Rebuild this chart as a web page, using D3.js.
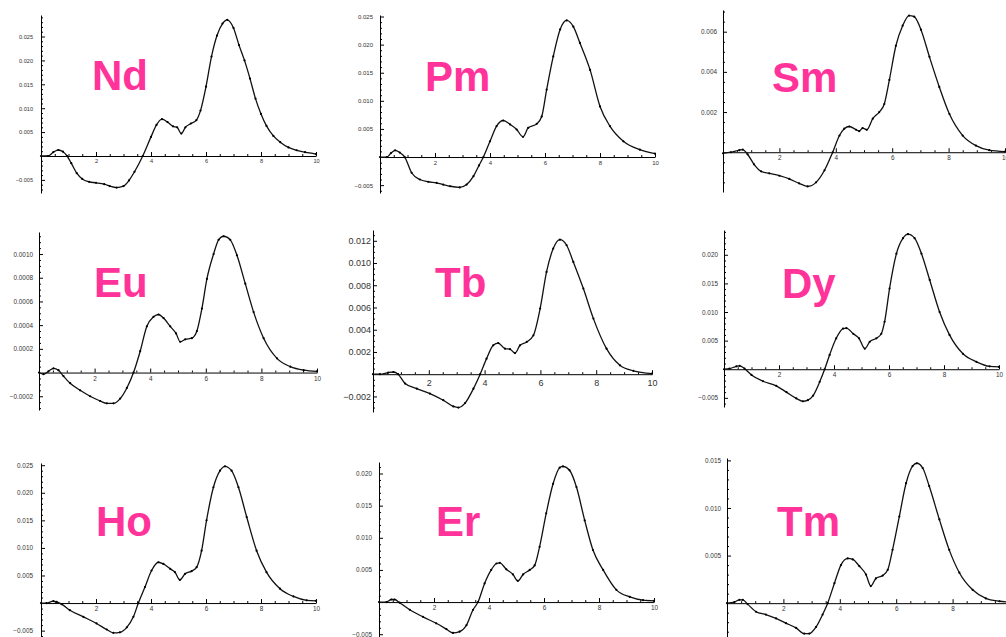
<!DOCTYPE html>
<html>
<head>
<meta charset="utf-8">
<script src="https://cdn.jsdelivr.net/npm/d3@7"></script>
<style>
  html, body { margin: 0; padding: 0; background: #fff; }
  svg { display: block; }
</style>
</head>
<body>
<svg id="chart" width="1006" height="637"></svg>
<script>
// Element names, one small panel each (3 x 3 grid, row by row)
const elements = ["Nd", "Pm", "Sm", "Eu", "Tb", "Dy", "Ho", "Er", "Tm"];

// Sampled curves: [energy, value]
const ndPoints = [[0,0],[0.25,0],[0.45,0.0008],[0.63,0.00126],[0.8,0.0009],[0.95,0],[1.1,-0.0015],[1.3,-0.0036],[1.5,-0.0048],[1.75,-0.0054],[2.0,-0.0056],[2.3,-0.0059],[2.5,-0.0063],[2.75,-0.0066],[3.0,-0.0063],[3.2,-0.0051],[3.4,-0.0033],[3.7,0],[4.0,0.0040],[4.2,0.0065],[4.4,0.0077],[4.6,0.0071],[4.8,0.0062],[4.95,0.0060],[5.1,0.0047],[5.25,0.0060],[5.45,0.0068],[5.65,0.0075],[5.8,0.0095],[6.0,0.0145],[6.2,0.0208],[6.4,0.0252],[6.6,0.0277],[6.77,0.0285],[7.0,0.0268],[7.2,0.0232],[7.4,0.0200],[7.6,0.0162],[7.8,0.0120],[8.0,0.0088],[8.2,0.0063],[8.45,0.0042],[8.7,0.0029],[9.0,0.0018],[9.3,0.0012],[9.6,0.0008],[10,0.0004]];
const pmPoints = [[0,0],[0.25,0],[0.4,0.0007],[0.55,0.0012],[0.72,0.0008],[0.9,0],[1.15,-0.0028],[1.45,-0.0040],[1.75,-0.0044],[2.06,-0.0046],[2.3,-0.0049],[2.55,-0.0052],[2.9,-0.0054],[3.15,-0.0049],[3.4,-0.0034],[3.6,-0.0015],[3.76,0],[4.0,0.0028],[4.24,0.0055],[4.48,0.0065],[4.73,0.0058],[4.97,0.0049],[5.2,0.0036],[5.39,0.0052],[5.7,0.0059],[5.88,0.0072],[6.06,0.0120],[6.3,0.0179],[6.55,0.0227],[6.79,0.0243],[7.03,0.0232],[7.27,0.0203],[7.64,0.0155],[8.0,0.0090],[8.36,0.0055],[8.85,0.0028],[9.45,0.0013],[10,0.0006]];
const smPoints = [[0,-0.00005],[0.28,0],[0.58,0.0001],[0.7,0.00013],[0.87,-0.0001],[1.1,-0.0006],[1.35,-0.00095],[1.64,-0.00105],[2.0,-0.00117],[2.35,-0.00133],[2.7,-0.00155],[3.0,-0.0017],[3.3,-0.0015],[3.6,-0.0009],[3.89,0],[4.13,0.00083],[4.3,0.00117],[4.48,0.00128],[4.72,0.00112],[4.83,0.00105],[4.95,0.0012],[5.1,0.00112],[5.31,0.00167],[5.54,0.002],[5.72,0.0024],[5.9,0.0036],[6.13,0.0053],[6.37,0.0063],[6.6,0.0068],[6.78,0.00675],[7.02,0.0061],[7.32,0.00475],[7.67,0.00325],[8.03,0.0019],[8.5,0.00083],[8.97,0.00033],[9.44,0.0001],[10,0.00003]];
const euPoints = [[0,0],[0.16,-0.000014],[0.34,0.00001],[0.52,0.000036],[0.7,0.00002],[0.88,-0.00003],[1.12,-0.00009],[1.48,-0.00015],[1.84,-0.0002],[2.2,-0.00024],[2.44,-0.00026],[2.68,-0.00026],[2.92,-0.00022],[3.16,-0.00013],[3.4,0],[3.64,0.00018],[3.88,0.00039],[4.12,0.00047],[4.3,0.00049],[4.48,0.00046],[4.72,0.00039],[4.93,0.00033],[5.08,0.00026],[5.26,0.00028],[5.5,0.00029],[5.68,0.00035],[5.86,0.00054],[6.04,0.00079],[6.28,0.001],[6.46,0.00112],[6.64,0.00115],[6.88,0.00112],[7.12,0.00099],[7.42,0.00075],[7.72,0.00051],[8.08,0.00029],[8.56,0.00012],[9.04,0.00005],[9.52,0.00002],[10,0.00001]];
const tbPoints = [[0,0],[0.25,0],[0.55,0.00015],[0.73,0.0002],[0.9,0],[1.15,-0.00084],[1.57,-0.0013],[2.04,-0.00174],[2.52,-0.00234],[2.88,-0.0029],[3.06,-0.003],[3.3,-0.0026],[3.6,-0.0013],[3.84,0],[4.07,0.0014],[4.31,0.0026],[4.49,0.0028],[4.73,0.0023],[4.91,0.00225],[5.09,0.0019],[5.27,0.0026],[5.51,0.0029],[5.75,0.0035],[5.99,0.0059],[6.22,0.0092],[6.46,0.0113],[6.7,0.0121],[6.94,0.0116],[7.18,0.0101],[7.54,0.0077],[7.9,0.005],[8.37,0.0023],[8.85,0.0008],[9.33,0.0003],[10,0.00006]];
const dyPoints = [[0,0],[0.2,0.0001],[0.45,0.0005],[0.57,0.0006],[0.75,0.0001],[1.0,-0.001],[1.42,-0.0021],[1.9,-0.0029],[2.27,-0.004],[2.63,-0.0051],[2.87,-0.0056],[3.05,-0.0054],[3.24,-0.0046],[3.48,-0.0022],[3.66,0],[3.84,0.0025],[4.08,0.0054],[4.33,0.0071],[4.45,0.0072],[4.7,0.0062],[4.91,0.0054],[5.12,0.0036],[5.3,0.0048],[5.54,0.0054],[5.72,0.0062],[5.84,0.0083],[6.02,0.0141],[6.27,0.0202],[6.51,0.0229],[6.69,0.0236],[6.93,0.0229],[7.18,0.0202],[7.48,0.0156],[7.84,0.01],[8.2,0.006],[8.69,0.0027],[9.18,0.0013],[9.66,0.0005],[10,0.0004]];
const hoPoints = [[0,0],[0.2,0],[0.45,0.00036],[0.57,0.0002],[0.75,-0.0002],[1.05,-0.0013],[1.54,-0.0025],[2.02,-0.0037],[2.39,-0.0048],[2.63,-0.0054],[2.87,-0.0053],[3.12,-0.0044],[3.36,-0.0025],[3.54,0],[3.78,0.0029],[4.02,0.0059],[4.27,0.0074],[4.45,0.0071],[4.7,0.0062],[4.87,0.0056],[5.05,0.0042],[5.24,0.0053],[5.48,0.0058],[5.66,0.0065],[5.84,0.0095],[6.02,0.015],[6.27,0.021],[6.51,0.024],[6.69,0.0248],[6.93,0.024],[7.18,0.021],[7.48,0.0156],[7.84,0.0095],[8.2,0.0056],[8.69,0.0026],[9.18,0.0012],[9.66,0.0005],[10,0.0004]];
const erPoints = [[0,0],[0.27,0],[0.45,0.0004],[0.57,0.0004],[0.75,-0.0001],[1.12,-0.0012],[1.6,-0.0023],[2.08,-0.0033],[2.45,-0.0042],[2.69,-0.0048],[2.93,-0.0046],[3.18,-0.0036],[3.42,-0.0012],[3.6,0],[3.84,0.0029],[4.08,0.005],[4.27,0.006],[4.39,0.0061],[4.63,0.0051],[4.87,0.0043],[5.05,0.0033],[5.24,0.0043],[5.48,0.005],[5.66,0.0057],[5.84,0.0086],[6.08,0.0138],[6.33,0.0184],[6.57,0.0209],[6.69,0.0211],[6.93,0.0205],[7.18,0.0179],[7.48,0.0127],[7.78,0.0081],[8.15,0.005],[8.63,0.0019],[9.12,0.0008],[9.6,0.0003],[10,0.0002]];
const tmPoints = [[0,0],[0.26,0.0001],[0.44,0.00035],[0.56,0.00035],[0.73,-0.0001],[1.03,-0.0009],[1.38,-0.0012],[1.74,-0.0016],[2.09,-0.0021],[2.45,-0.0026],[2.74,-0.0032],[2.92,-0.0032],[3.16,-0.0025],[3.39,-0.0012],[3.57,0],[3.81,0.0021],[4.04,0.004],[4.28,0.0047],[4.46,0.0046],[4.69,0.0039],[4.93,0.003],[5.1,0.0018],[5.28,0.0026],[5.52,0.0029],[5.7,0.0035],[5.87,0.0056],[6.11,0.0091],[6.35,0.0126],[6.58,0.0144],[6.73,0.0147],[6.94,0.0142],[7.17,0.0123],[7.53,0.0088],[7.88,0.0056],[8.24,0.0032],[8.71,0.0014],[9.18,0.0005],[9.66,0.0002],[10,0.0001]];

// Tick values
const xTicks = [2, 4, 6, 8, 10];
const ndYTicks = [0.025, 0.020, 0.015, 0.010, 0.005, -0.005];
const pmYTicks = [0.025, 0.020, 0.015, 0.010, 0.005, -0.005];
const smYTicks = [0.006, 0.004, 0.002];
const euYTicks = [0.0010, 0.0008, 0.0006, 0.0004, 0.0002, -0.0002];
const tbYTicks = [0.012, 0.010, 0.008, 0.006, 0.004, 0.002, -0.002];
const dyYTicks = [0.020, 0.015, 0.010, 0.005, -0.005];
const hoYTicks = [0.025, 0.020, 0.015, 0.010, 0.005, -0.005];
const erYTicks = [0.020, 0.015, 0.010, 0.005, -0.005];
const tmYTicks = [0.015, 0.010, 0.005];

const WIDTH = 1006;

// Panel geometry: axis frame in page pixels, y domain, label placement
const panels = [
  { name: "Nd", pts: ndPoints, yTicks: ndYTicks, dec: 3, minor: 0.001,   left: 41,  right: 316,  top: 15,  bottom: 193, yDom: [-0.00774, 0.0295],  fs: 5.6, pad: 8, lx: 92,  ly: 90 },
  { name: "Pm", pts: pmPoints, yTicks: pmYTicks, dec: 3, minor: 0.001,   left: 380, right: 655,  top: 15,  bottom: 193, yDom: [-0.0064, 0.02527],  fs: 6.0, pad: 7, lx: 425, ly: 91 },
  { name: "Sm", pts: smPoints, yTicks: smYTicks, dec: 3, minor: 0.0005,  left: 723, right: 1005, top: 10,  bottom: 192, yDom: [-0.00198, 0.00708], fs: 6.4, pad: 6, lx: 772, ly: 92 },
  { name: "Eu", pts: euPoints, yTicks: euYTicks, dec: 4, minor: 0.00005, left: 39,  right: 317,  top: 232, bottom: 410, yDom: [-0.000316, 0.001186], fs: 6.4, pad: 6, lx: 94, ly: 297 },
  { name: "Tb", pts: tbPoints, yTicks: tbYTicks, dec: 3, minor: 0.0005,  left: 373, right: 652,  top: 230, bottom: 412, yDom: [-0.0034, 0.01297],  fs: 9.0, pad: 2, lx: 435, ly: 297 },
  { name: "Dy", pts: dyPoints, yTicks: dyYTicks, dec: 3, minor: 0.001,   left: 724, right: 999,  top: 230, bottom: 407, yDom: [-0.0066, 0.02433],  fs: 6.4, pad: 6, lx: 782, ly: 298 },
  { name: "Ho", pts: hoPoints, yTicks: hoYTicks, dec: 3, minor: 0.001,   left: 41,  right: 316,  top: 463, bottom: 640, yDom: [-0.0067, 0.0254],   fs: 6.4, pad: 8, lx: 96,  ly: 536 },
  { name: "Er", pts: erPoints, yTicks: erYTicks, dec: 3, minor: 0.001,   left: 379, right: 654,  top: 462, bottom: 640, yDom: [-0.0059, 0.02179],  fs: 6.4, pad: 7, lx: 436, ly: 536 },
  { name: "Tm", pts: tmPoints, yTicks: tmYTicks, dec: 3, minor: 0.001,   left: 727, right: 1009, top: 458, bottom: 640, yDom: [-0.00387, 0.01525], fs: 6.4, pad: 6, lx: 777, ly: 536 }
];

const svg = d3.select("#chart");
const tickFont = "'Liberation Sans', Arial, sans-serif";

function fmtTick(dec) {
  return v => (v < 0 ? "\u2212" : "") + Math.abs(v).toFixed(dec);
}

function minorValues(dom, step, majors) {
  const out = [];
  const start = Math.ceil(dom[0] / step - 1e-9);
  const end = Math.floor(dom[1] / step + 1e-9);
  for (let i = start; i <= end; i++) {
    const v = +(i * step).toFixed(8);
    if (v === 0) continue;
    if (majors.some(m => Math.abs(m - v) < step * 1e-3)) continue;
    out.push(v);
  }
  return out;
}

panels.forEach(p => {
  const x = d3.scaleLinear().domain([0, 10]).range([p.left, p.right]);
  const y = d3.scaleLinear().domain(p.yDom).range([p.bottom, p.top]);
  const g = svg.append("g").attr("class", "panel panel-" + p.name);

  // y axis: inward major ticks with labels, inward minor ticks
  const yAxis = g.append("g")
    .attr("transform", `translate(${p.left},0)`)
    .call(d3.axisLeft(y).tickValues(p.yTicks).tickSizeInner(-4).tickSizeOuter(0)
      .tickPadding(p.pad).tickFormat(fmtTick(p.dec)));
  yAxis.selectAll("text").attr("font-family", tickFont).attr("font-size", p.fs).attr("fill", "#333");
  const yMinor = g.append("g")
    .attr("transform", `translate(${p.left},0)`)
    .call(d3.axisLeft(y).tickValues(minorValues(p.yDom, p.minor, p.yTicks)).tickSizeInner(-2).tickSizeOuter(0).tickFormat(""));
  yMinor.select(".domain").remove();

  // x axis along value zero, ticks pointing up; labels only where they fit on the page
  const shownX = xTicks.filter(v => x(v) <= WIDTH);
  const xAxis = g.append("g")
    .attr("transform", `translate(0,${y(0)})`)
    .call(d3.axisBottom(x).tickValues(shownX).tickSizeInner(-4).tickSizeOuter(0)
      .tickPadding(p.fs * 0.55).tickFormat(d3.format("d")));
  xAxis.selectAll("text").attr("font-family", tickFont).attr("font-size", p.fs).attr("fill", "#333");
  const xMinor = g.append("g")
    .attr("transform", `translate(0,${y(0)})`)
    .call(d3.axisBottom(x).tickValues(d3.range(0.5, 10.01, 0.5).filter(v => v % 2 !== 0))
      .tickSizeInner(-2).tickSizeOuter(0).tickFormat(""));
  xMinor.select(".domain").remove();

  g.selectAll(".domain, .tick line").attr("stroke", "#000").attr("stroke-width", 1);

  // curve and sample markers
  const line = d3.line().x(d => x(d[0])).y(d => y(d[1])).curve(d3.curveMonotoneX);
  g.append("path").datum(p.pts)
    .attr("d", line)
    .attr("fill", "none")
    .attr("stroke", "#111")
    .attr("stroke-width", 1.3)
    .attr("stroke-linejoin", "round");
  g.selectAll("circle.pt").data(p.pts).join("circle")
    .attr("class", "pt")
    .attr("cx", d => x(d[0]))
    .attr("cy", d => y(d[1]))
    .attr("r", 1.1)
    .attr("fill", "#000");

  // element label
  g.append("text")
    .attr("x", p.lx).attr("y", p.ly)
    .attr("font-family", "'Liberation Sans', Arial, sans-serif")
    .attr("font-weight", "bold")
    .attr("font-size", 42)
    .attr("fill", "#ff3399")
    .text(p.name);
});
</script>
</body>
</html>
